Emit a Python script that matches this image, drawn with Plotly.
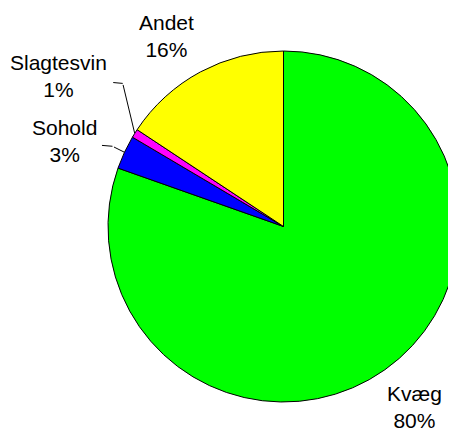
import math
import plotly.graph_objects as go

labels = ["Kvæg", "Sohold", "Slagtesvin", "Andet"]
values = [80.4, 3.1, 0.8, 15.7]
colors = ["#00FF00", "#0000FF", "#FF00FF", "#FFFF00"]

# label offsets from slice edge (pixels)
label_offsets = [(30, 37), (-60, -11), (-76, -57), (-34, -36)]
# leader line: elbow and end, relative to the slice edge (pixels)
leaders = [None, ((-12, -6), (-24, -7)), ((-12, -50), (-23, -51)), None]

W, H = 456, 430
dom_x = [100 / W, 451 / W]
dom_y = [1 - 394 / H, 1 - 43 / H]

fig = go.Figure(go.Pie(
    labels=labels, values=values, sort=False, direction="clockwise",
    marker=dict(colors=colors, line=dict(color="black", width=1)),
    textinfo="none", hoverinfo="label+percent", showlegend=False,
    domain=dict(x=dom_x, y=dom_y),
))

# pie geometry in pixels, as plotly lays it out
cx = (dom_x[0] + dom_x[1]) / 2 * W
cy = (1 - (dom_y[0] + dom_y[1]) / 2) * H
r = min((dom_x[1] - dom_x[0]) * W, (dom_y[1] - dom_y[0]) * H) / 2

font = dict(family="Liberation Sans, Arial", size=21, color="black")


def line(x0, y0, x1, y1):
    fig.add_annotation(
        x=x0 / W, y=1 - y0 / H, xref="paper", yref="paper", text="",
        showarrow=True, arrowhead=0, arrowwidth=1, arrowcolor="black",
        ax=x1 - x0, ay=y1 - y0, standoff=0, startstandoff=0,
    )


total = sum(values)
cum = 0
for lab, v, (ax, ay), ld in zip(labels, values, label_offsets, leaders):
    mid = (cum + v / 2) / total
    cum += v
    ang = math.radians(90 - 360 * mid)
    px = cx + r * math.cos(ang)
    py = cy - r * math.sin(ang)
    fig.add_annotation(
        x=(px + ax) / W, y=1 - (py + ay) / H, xref="paper", yref="paper",
        xanchor="center", yanchor="middle",
        text="{}<br>{}%".format(lab, round(v / total * 100)),
        showarrow=False, font=font,
    )
    if ld:
        (ex, ey), (tx, ty) = ld
        line(px, py, px + ex, py + ey)
        line(px + ex, py + ey, px + tx, py + ty)

fig.update_layout(
    width=W, height=H, margin=dict(l=0, r=0, t=0, b=0),
    paper_bgcolor="white", plot_bgcolor="white",
)
fig.write_html("out.html")
